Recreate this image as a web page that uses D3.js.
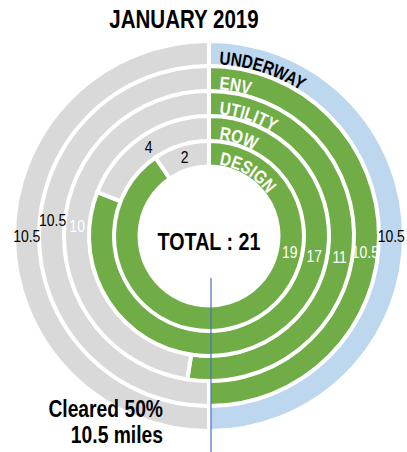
<!DOCTYPE html>
<html>
<head>
<meta charset="utf-8">
<script src="https://cdn.jsdelivr.net/npm/d3@7/dist/d3.min.js"></script>
<style>
  html, body { margin: 0; padding: 0; background: #fff; }
  svg { display: block; }
  text { font-family: "Liberation Sans", Arial, sans-serif; }
</style>
</head>
<body>
<div id="chart"></div>
<script>
// ring data, outer ring first
const ringNames = ["UNDERWAY", "ENV", "UTILITY", "ROW", "DESIGN"];
const doneMiles = [10.5, 10.5, 11, 17, 19];
const leftMiles = [10.5, 10.5, 10, 4, 2];
const totalMiles = 21;
const titleText = "JANUARY 2019";

var width = 407,
    height = 452,
    cx = 209,
    cy = 236,
    gap = 4,
    squeeze = 0.82; // source uses a narrow face, none installed

// hand placed labels, like in the source sheet (degrees from 12 o'clock)
var doneLabelDeg = [90, 96, 99, 101, 101],
    leftLabelNudge = [0, 6, 0, 0, 0];

var ringColors = ["#BDD7EE", "#70AD47", "#70AD47", "#70AD47", "#70AD47"];

var radius = d3.scaleBand()
    .domain(ringNames)
    .range([193, 71.5])
    .paddingInner(0.14);

var pie = d3.pie().sort(null);

function narrow(sel) {
    sel.each(function () {
        var len = this.getComputedTextLength();
        d3.select(this)
            .attr("textLength", len * squeeze)
            .attr("lengthAdjust", "spacingAndGlyphs");
    });
}

var svg = d3.select("#chart").append("svg")
    .attr("width", width)
    .attr("height", height);

svg.append("text")
    .attr("x", 184)
    .attr("y", 28)
    .attr("text-anchor", "middle")
    .attr("font-size", "25px")
    .attr("font-weight", "bold")
    .text(titleText)
    .call(narrow);

var g = svg.append("g")
    .attr("transform", "translate(" + cx + "," + cy + ")");

var rings = ringNames.map(function (name, i) {
    var r0 = radius(name),
        r1 = r0 + radius.bandwidth();
    return {
        name: name,
        i: i,
        r0: r0,
        r1: r1,
        slices: pie([doneMiles[i], leftMiles[i]])
    };
});

// slices, white stroke makes the gaps
rings.forEach(function (ring) {
    var arc = d3.arc()
        .innerRadius(ring.r0 - gap / 2)
        .outerRadius(ring.r1 + gap / 2);

    g.selectAll(null)
        .data(ring.slices)
        .enter().append("path")
        .attr("d", arc)
        .attr("fill", function (d, j) { return j === 0 ? ringColors[ring.i] : "#D9D9D9"; })
        .attr("stroke", "#fff")
        .attr("stroke-width", gap);
});

// ring names along the arcs
rings.forEach(function (ring) {
    var r = ring.r0 + 0.5;
    g.append("path")
        .attr("id", "ringpath" + ring.i)
        .attr("fill", "none")
        .attr("d", "M0," + (-r) + "A" + r + "," + r + " 0 1 1 0," + r);

    g.append("text")
        .attr("font-size", "18.5px")
        .attr("font-weight", "bold")
        .attr("fill", ring.i === 0 ? "#000" : "#fff")
        .append("textPath")
        .attr("href", "#ringpath" + ring.i)
        .attr("startOffset", 10)
        .text(ring.name)
        .call(narrow);
});

// value labels
rings.forEach(function (ring) {
    var mid = (ring.r0 + ring.r1) / 2;
    ring.slices.forEach(function (d, j) {
        var deg = j === 0 ? doneLabelDeg[ring.i]
            : ((d.startAngle + d.endAngle) / 2) * 180 / Math.PI + leftLabelNudge[ring.i];
        var a = deg * Math.PI / 180;
        var fill = "#000";
        if (j === 0 && ring.i > 0) fill = "#fff";
        if (j === 1 && ring.i === 2) fill = "#fff";
        g.append("text")
            .attr("x", mid * Math.sin(a))
            .attr("y", -mid * Math.cos(a))
            .attr("dy", "0.35em")
            .attr("text-anchor", "middle")
            .attr("font-size", "17px")
            .attr("fill", fill)
            .text(d.data)
            .call(narrow);
    });
});

g.append("text")
    .attr("y", 14)
    .attr("text-anchor", "middle")
    .attr("font-size", "24px")
    .attr("font-weight", "bold")
    .text("TOTAL : " + totalMiles)
    .call(narrow);

// cleared note
var cleared = doneMiles[0];
var note = svg.append("text")
    .attr("text-anchor", "end")
    .attr("font-size", "23.5px")
    .attr("font-weight", "bold");
note.append("tspan")
    .attr("x", 163)
    .attr("y", 417)
    .text("Cleared " + d3.format(".0%")(cleared / totalMiles))
    .call(narrow);
note.append("tspan")
    .attr("x", 163)
    .attr("y", 443)
    .text(cleared + " miles")
    .call(narrow);

// halfway marker
svg.append("line")
    .attr("x1", cx + 2)
    .attr("x2", cx + 2)
    .attr("y1", cy + 42)
    .attr("y2", height)
    .attr("stroke", "#4472C4")
    .attr("stroke-width", 1.2);
</script>
</body>
</html>
